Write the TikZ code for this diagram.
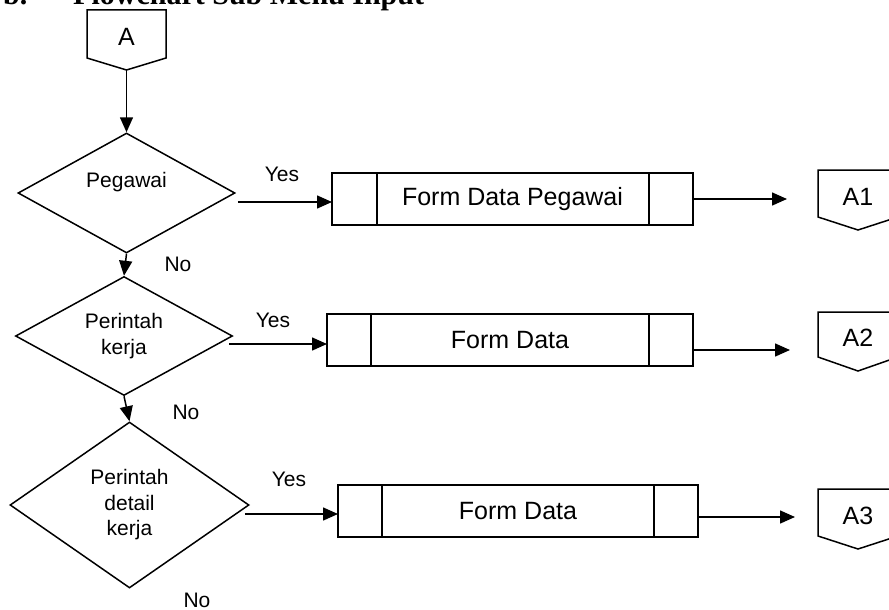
\documentclass[tikz,border=0pt]{standalone}
\usepackage{fontspec}
\setmainfont{Liberation Sans}
\newfontfamily\titlefont{Liberation Serif}
\usetikzlibrary{arrows.meta,shapes.geometric,calc}
\newcommand\fsmall{\fontsize{21}{25.5}\selectfont}
\newcommand\fbig{\fontsize{25}{30}\selectfont}
\begin{document}
\begin{tikzpicture}[x=1pt,y=-1pt,
  line/.style={line width=1.5pt, line join=miter},
  arr/.style={line width=1.5pt, -{Triangle[length=15pt,width=13pt]}},
  decision/.style={diamond, aspect=1.8, draw, line width=1.5pt, inner sep=0pt, font=\fsmall, align=center},
  procbox/.style={rectangle, draw, line width=1.5pt, outer sep=0pt, minimum height=52pt, font=\fbig},
  offp/.style={rectangle, draw=none, minimum width=80pt, inner sep=0pt, outer sep=0pt, font=\fbig, text height=23pt, text depth=0pt},
  lbl/.style={font=\fsmall, inner sep=0pt},
  ttl/.style={anchor=base west, inner sep=0pt, font=\titlefont\bfseries\fontsize{30}{36}\selectfont}]
\useasboundingbox (0,0) rectangle (889,610);
\clip (0,0) rectangle (889,610);

% title (cut at the top)
\node[ttl] (tb) at (3,5) {b.};
\node[ttl] (tt) at (73,5) {Flowchart Sub Menu Input};

% off-page connector A
\node[offp, minimum width=79pt, minimum height=48pt] (A) at (126.5,34) {A};
\draw[line] (A.north west) -- (A.north east) -- (A.south east) -- ($(A.south)+(0,12)$) coordinate (At) -- (A.south west) -- cycle;

% decisions
\node[decision, minimum width=217pt, minimum height=120pt] (d1) at (126.5,193) {Pegawai\\~};
\node[decision, minimum width=217pt, minimum height=119pt] (d2) at (124,336) {Perintah\\kerja};
\node[decision, minimum width=239pt, minimum height=166pt] (d3) at (129.5,505) {Perintah\\detail\\kerja};

% processes
\node[procbox, minimum width=361pt] (p1) at (512.5,199) {Form Data Pegawai};
\draw[line] ([xshift=45pt]p1.north west) -- ([xshift=45pt]p1.south west);
\draw[line] ([xshift=-44pt]p1.north east) -- ([xshift=-44pt]p1.south east);
\node[procbox, minimum width=366pt] (p2) at (510,340) {Form Data};
\draw[line] ([xshift=44pt]p2.north west) -- ([xshift=44pt]p2.south west);
\draw[line] ([xshift=-44pt]p2.north east) -- ([xshift=-44pt]p2.south east);
\node[procbox, minimum width=360pt] (p3) at (518,511) {Form Data};
\draw[line] ([xshift=44pt]p3.north west) -- ([xshift=44pt]p3.south west);
\draw[line] ([xshift=-44pt]p3.north east) -- ([xshift=-44pt]p3.south east);

% off-page connectors A1..A3
\node[offp, minimum height=47pt] (A1) at (858,193.5) {A1};
\draw[line] (A1.north west) -- (A1.north east) -- (A1.south east) -- ($(A1.south)+(0,13)$) -- (A1.south west) -- cycle;
\node[offp, minimum height=45pt] (A2) at (858,334.5) {A2};
\draw[line] (A2.north west) -- (A2.north east) -- (A2.south east) -- ($(A2.south)+(0,14)$) -- (A2.south west) -- cycle;
\node[offp, minimum height=47pt] (A3) at (858,512.5) {A3};
\draw[line] (A3.north west) -- (A3.north east) -- (A3.south east) -- ($(A3.south)+(0,13)$) -- (A3.south west) -- cycle;

% vertical flow
\draw[arr] (At) -- (d1.north);
\draw[arr] (d1.south) -- (d2.north);
\draw[arr] (d2.south) -- (d3.north);

% yes branches
\coordinate (y1) at ([shift={(2pt,-9pt)}]d1.east);
\draw[arr] (y1) -- (y1 -| p1.west);
\coordinate (y2) at ([shift={(-4pt,-8pt)}]d2.east);
\draw[arr] (y2) -- (y2 -| p2.west);
\coordinate (y3) at ([shift={(-5pt,-9pt)}]d3.east);
\draw[arr] (y3) -- (y3 -| p3.west);

% to connectors
\coordinate (e1) at ([xshift=-31pt]A1.west);
\draw[arr] (p1.east) -- (p1.east -| e1);
\coordinate (o2) at ([yshift=-10pt]p2.east);
\coordinate (e2) at ([xshift=-28pt]A2.west);
\draw[arr] (o2) -- (o2 -| e2);
\coordinate (o3) at ([yshift=-6pt]p3.east);
\coordinate (e3) at ([xshift=-23pt]A3.west);
\draw[arr] (o3) -- (o3 -| e3);

% labels
\node[lbl] (ly1) at (282,174) {Yes};
\node[lbl] (ly2) at (273,320) {Yes};
\node[lbl] (ly3) at (289,479) {Yes};
\node[lbl] (ln1) at (178,264) {No};
\node[lbl] (ln2) at (186,412) {No};
\node[lbl] (ln3) at (197,600) {No};
\end{tikzpicture}
\end{document}
